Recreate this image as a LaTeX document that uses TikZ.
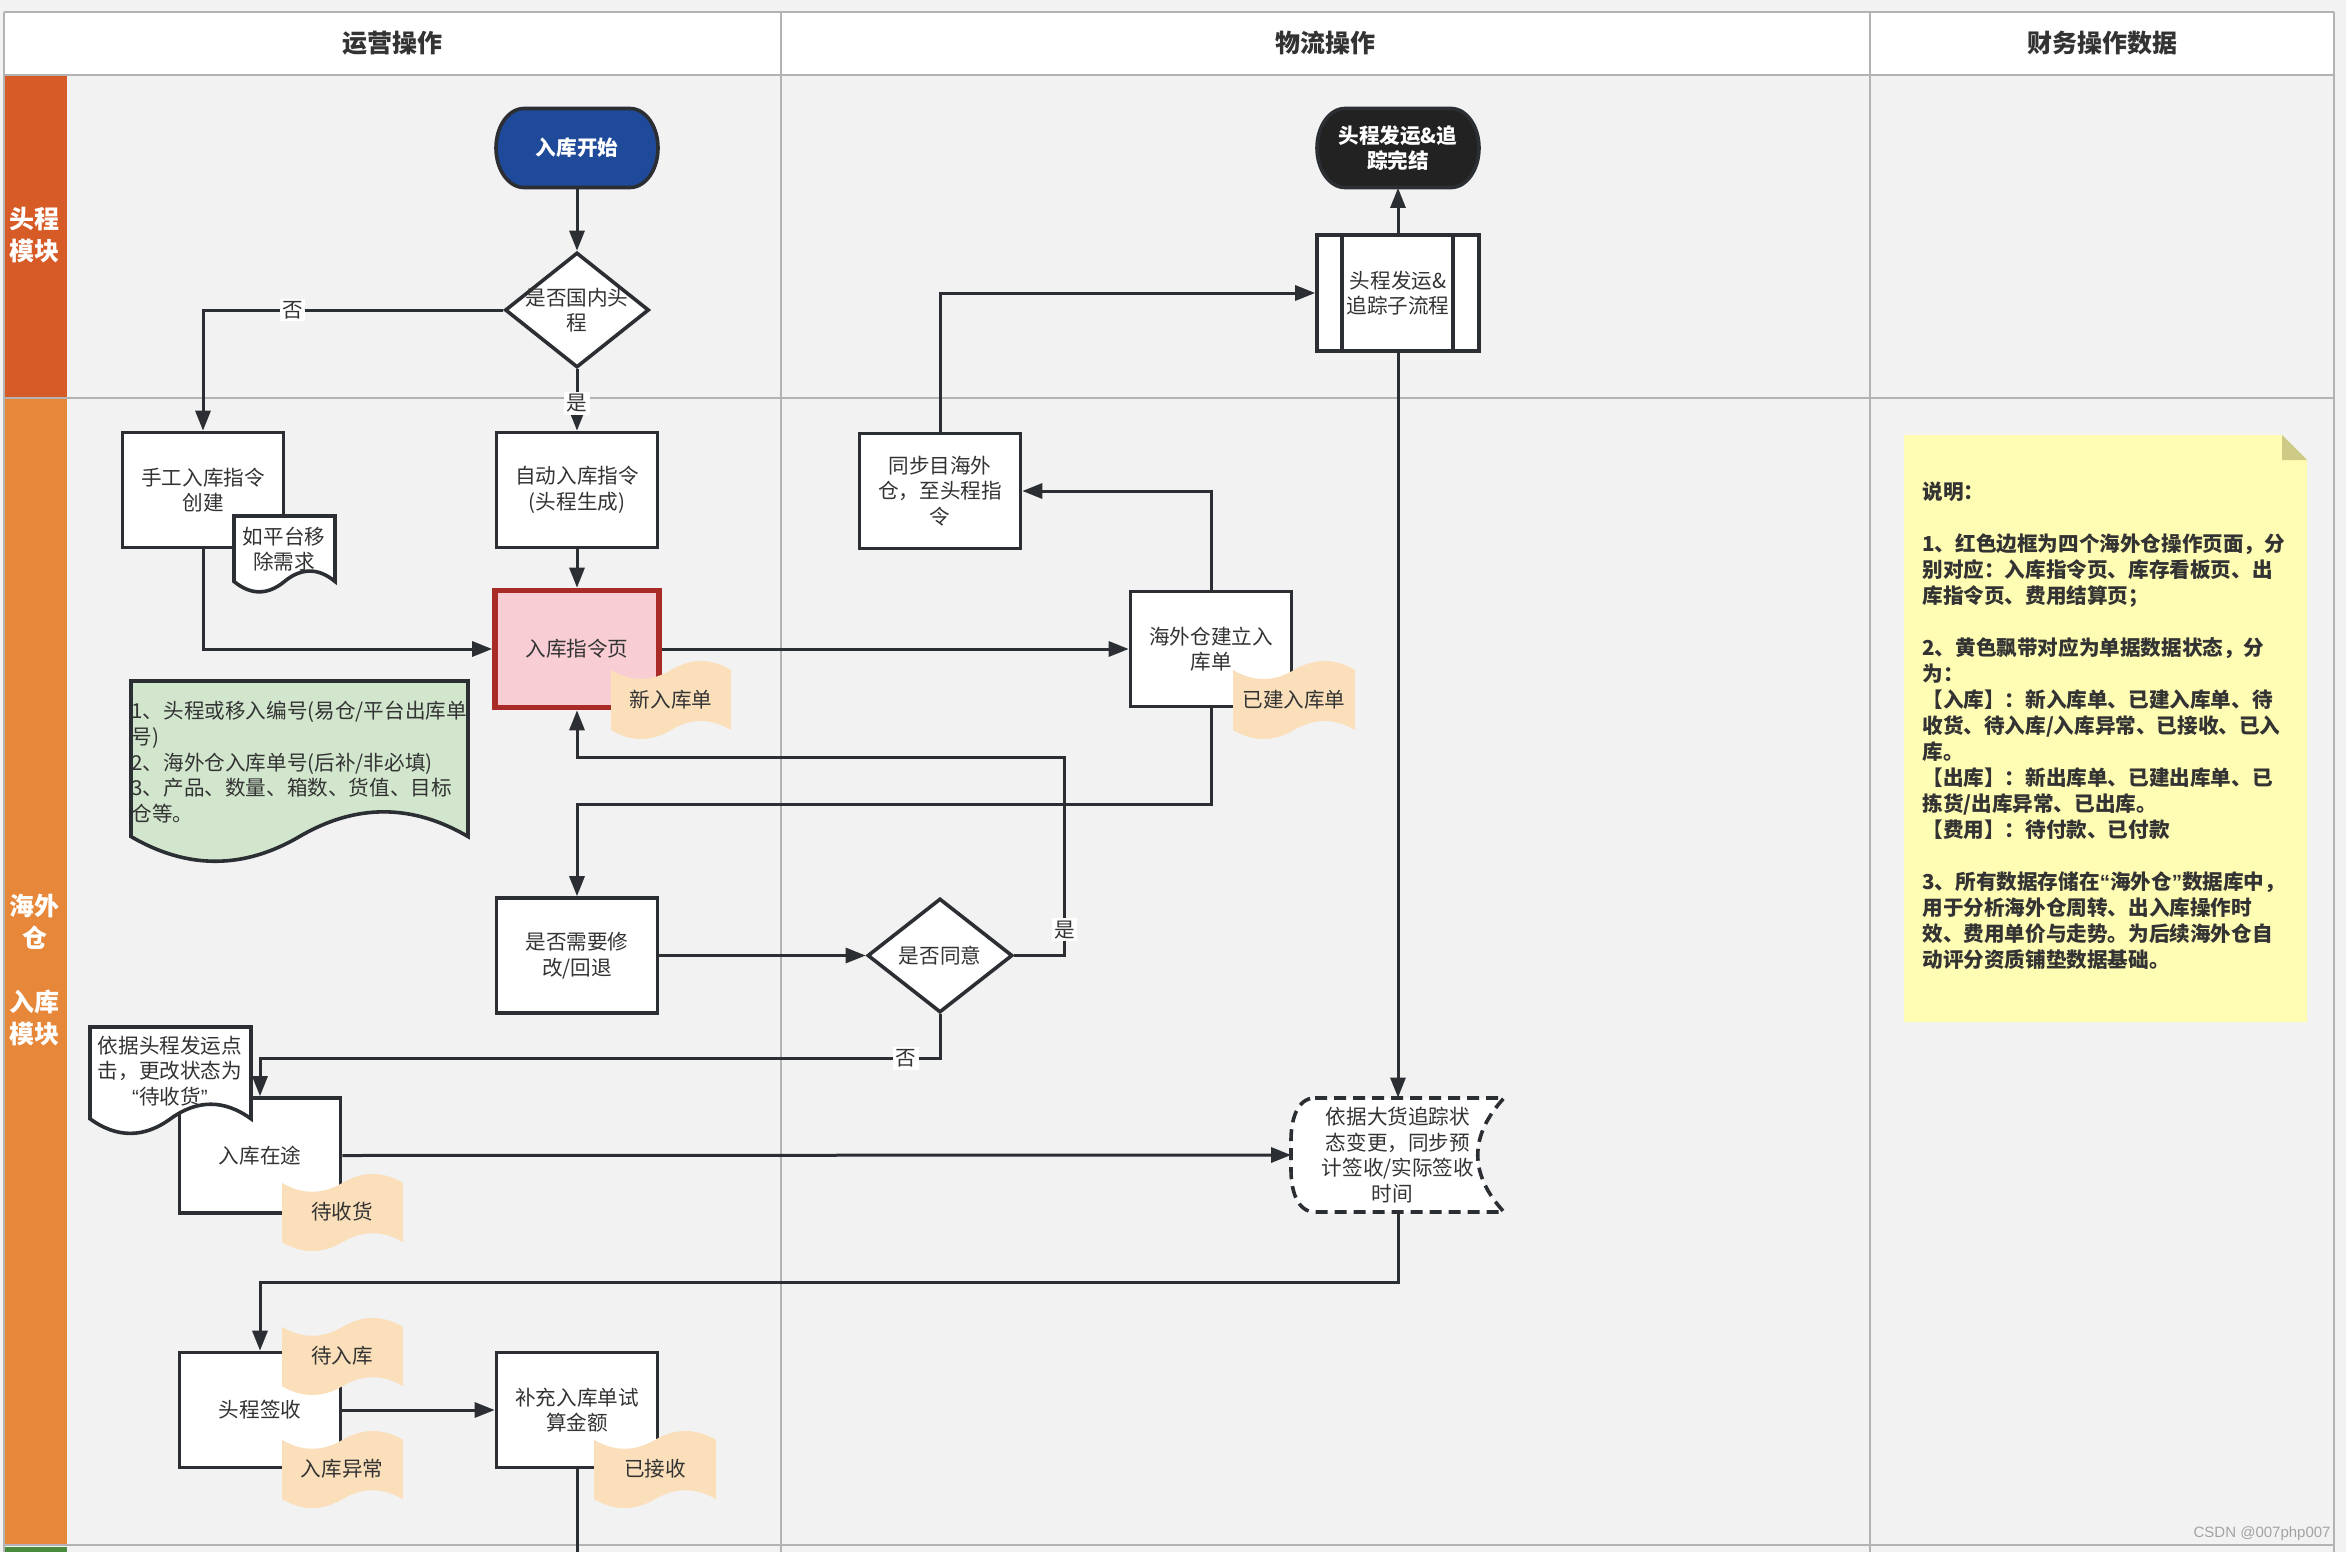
\documentclass[tikz,border=0pt]{standalone}
\usepackage{fontspec}
\setmainfont{Noto Sans CJK SC}
\newfontfamily\wmfont{Liberation Sans}
\usetikzlibrary{arrows.meta,shapes.geometric,calc}
\definecolor{bgc}{HTML}{F2F2F2}
\definecolor{gridc}{HTML}{B3B3B3}
\definecolor{laneA}{HTML}{D65B27}
\definecolor{laneB}{HTML}{E6873A}
\definecolor{laneC}{HTML}{4B8B3E}
\definecolor{bdr}{HTML}{2B2F33}
\definecolor{txt}{HTML}{333333}
\definecolor{startblue}{HTML}{1F4A9A}
\definecolor{endblack}{HTML}{222222}
\definecolor{pinkf}{HTML}{F8CED4}
\definecolor{redb}{HTML}{A82B28}
\definecolor{peach}{HTML}{FADFBA}
\definecolor{greendoc}{HTML}{D1E6CD}
\definecolor{notec}{HTML}{FFFCB4}
\definecolor{foldc}{HTML}{CDCA86}
\definecolor{wmc}{HTML}{A3A3A3}
\newcommand\bodyfont{\fontsize{10.3}{12.8}\selectfont}
\newcommand\myLQ{{\wmfont “}}
\newcommand\myRQ{{\wmfont ”}}
% tape (status ribbon): x0 y0 w h
\newcommand\tapeshape[4]{%
  \fill[peach, shift={(#1,#2)}] (0,{0.125*#4}) .. controls ({#3/6},{0.275*#4}) and ({#3/3},{0.275*#4}) .. ({#3/2},{0.125*#4}) .. controls ({2*#3/3},{-0.025*#4}) and ({5*#3/6},{-0.025*#4}) .. (#3,{0.125*#4}) -- (#3,{0.875*#4}) .. controls ({5*#3/6},{0.725*#4}) and ({2*#3/3},{0.725*#4}) .. ({#3/2},{0.875*#4}) .. controls ({#3/3},{1.025*#4}) and ({#3/6},{1.025*#4}) .. (0,{0.875*#4}) -- cycle;}
% document with wavy bottom: x0 y0 w h style
\newcommand\docshape[5]{%
  \path[#5, shift={(#1,#2)}] (0,0) -- (#3,0) -- (#3,{0.85*#4}) .. controls ({5*#3/6},{0.67*#4}) and ({2*#3/3},{0.67*#4}) .. ({#3/2},{0.85*#4}) .. controls ({#3/3},{1.03*#4}) and ({#3/6},{1.03*#4}) .. (0,{0.85*#4}) -- cycle;}
% terminator 162x79: cx cy style
\newcommand\termshape[3]{%
  \path[#3, shift={({#1-81},{#2-39.5})}] (28,0) -- (134,0) .. controls (149.5,0) and (162,17.7) .. (162,39.5) .. controls (162,61.3) and (149.5,79) .. (134,79) -- (28,79) .. controls (12.5,79) and (0,61.3) .. (0,39.5) .. controls (0,17.7) and (12.5,0) .. cycle;}
\tikzset{
  box/.style={draw=bdr, line width=1.8pt, fill=white, minimum width=80.5pt, minimum height=57.5pt, inner sep=0pt, align=center, text=txt, font=\bodyfont},
  ghost/.style={draw=none, fill=none, inner sep=0pt, align=center, text=txt, font=\bodyfont},
  arr/.style={draw=bdr, line width=1.5pt, -{Triangle[length=10pt,width=7.5pt]}},
  plainline/.style={draw=bdr, line width=1.5pt},
  lbl/.style={fill=white, inner sep=1.2pt, text=txt, font=\bodyfont},
  gridline/.style={draw=gridc, line width=1.2pt},
  dia/.style={diamond, draw=bdr, line width=1.8pt, fill=white, inner sep=0pt},
  hdr/.style={text=txt, font=\fontsize{12.5}{15}\selectfont\bfseries},
  lanelbl/.style={text=white, align=center, font=\fontsize{12.5}{16}\selectfont\bfseries},
}
\begin{document}
\begin{tikzpicture}[x=0.5pt,y=-0.5pt]
\useasboundingbox (0,0) rectangle (2346,1552);
\fill[bgc] (0,0) rectangle (2346,1552);
% header and lane bands
\fill[white] (4,12) rectangle (2334,75);
\fill[laneA] (4,75) rectangle (67,398);
\fill[laneB] (4,398) rectangle (67,1545);
\fill[laneC] (4,1547) rectangle (67,1552);
\draw[gridline] (4,12) -- (2334,12);
\draw[gridline] (4,75) -- (2334,75);
\draw[gridline] (4,398) -- (2334,398);
\draw[gridline] (4,1545) -- (2334,1545);
\draw[gridline] (4,12) -- (4,1552);
\draw[gridline] (781,12) -- (781,1552);
\draw[gridline] (1870,12) -- (1870,1552);
\draw[gridline] (2334,12) -- (2334,1552);
\node[hdr] (h1) at (392,43) {运营操作};
\node[hdr] (h2) at (1325,43) {物流操作};
\node[hdr] (h3) at (2102,43) {财务操作数据};
\node[lanelbl] (l1) at (35,235) {头程\\模块};
\node[lanelbl] (l2) at (35,970) {海外\\仓\\\mbox{}\\入库\\模块};

% start / end terminators
\termshape{577}{148}{fill=startblue, draw=bdr, line width=1.8pt}
\node[ghost, text=white, font=\bodyfont\bfseries, minimum width=81pt, minimum height=39.5pt] (start) at (577,148) {入库开始};
\termshape{1398}{148}{fill=endblack, draw=bdr, line width=1.8pt}
\node[ghost, text=white, font=\bodyfont\bfseries, minimum width=81pt, minimum height=39.5pt] (end) at (1398,148) {头程发运\&追\\踪完结};

% decisions
\node[dia, minimum width=72pt, minimum height=57.5pt] (d1) at (577,310) {};
\node[ghost] (d1t) at (d1) {是否国内头\\程};
\node[dia, minimum width=72.5pt, minimum height=57pt] (agree) at (940,955.5) {};
\node[ghost] (agreet) at (agree) {是否同意};

% boxes
\node[box] (man) at (203,490) {手工入库指令\\创建};
\docshape{234}{516}{101}{77}{draw=bdr, fill=white, line width=1.8pt}
\node[ghost] (memo1) at (284,549) {如平台移\\除需求};
\node[box] (auto) at (577,490) {自动入库指令\\(头程生成)};
\node[box, draw=redb, line width=2.8pt, fill=pinkf, minimum width=82pt, minimum height=58.5pt] (page) at (577,649) {入库指令页};
\docshape{131}{681}{337}{183}{draw=bdr, fill=greendoc, line width=1.8pt}
\node[ghost, anchor=north west, align=left] (memo2) at (131,701) {1、头程或移入编号(易仓/平台出库单\\号)\\2、海外仓入库单号(后补/非必填)\\3、产品、数量、箱数、货值、目标\\仓等。};
\node[box] (sync) at (940,491) {同步目海外\\仓，至头程指\\令};
\node[box] (wh) at (1211,649) {海外仓建立入\\库单};
\node[box, minimum width=81pt, minimum height=58pt] (sub) at (1398,293) {头程发运\&\\追踪子流程};
\draw[bdr, line width=1.8pt] ([xshift=13.5pt]sub.north west) -- ([xshift=13.5pt]sub.south west);
\draw[bdr, line width=1.8pt] ([xshift=-14pt]sub.north east) -- ([xshift=-14pt]sub.south east);
\node[box] (chg) at (577,955.5) {是否需要修\\改/回退};
\node[box] (transit) at (260,1155.5) {入库在途};
\docshape{90}{1027}{161}{108}{draw=bdr, fill=white, line width=1.8pt}
\node[ghost] (memo3) at (170,1071) {依据头程发运点\\击，更改状态为\\\myLQ 待收货\myRQ};
\path[draw=bdr, fill=white, line width=1.8pt, dash pattern=on 6pt off 3.5pt] (1315,1098) -- (1504,1098) .. controls (1469,1136) and (1469,1174) .. (1504,1212) -- (1315,1212) .. controls (1297,1212) and (1291,1190) .. (1291,1170) -- (1291,1140) .. controls (1291,1120) and (1297,1098) .. cycle;
\node[ghost, minimum width=106.5pt, minimum height=57pt] (track) at (1398,1155) {依据大货追踪状\\态变更，同步预\\计签收/实际签收\\时间\hspace*{6pt}};
\node[box] (sign) at (260,1410) {头程签收};
\node[box] (supp) at (577,1410) {补充入库单试\\算金额};

% connectors
\draw[arr] (start.south) -- (d1.north);
\draw[arr] (d1.west) -| node[lbl, pos=0.351] {否} (man.north);
\draw[arr] (d1.south) -- node[lbl, pos=0.55] {是} (auto.north);
\draw[arr] (man.south) |- (page.west);
\draw[arr] (auto.south) -- (page.north);
\draw[arr] (page.east) -- (wh.west);
\draw[arr] (wh.north) |- (sync.east);
\draw[arr] (sync.north) |- (sub.west);
\draw[arr] (sub.north) -- (end.south);
\draw[arr] (sub.south) -- (track.north);
\draw[arr] (wh.south) -- ($(wh.south)+(0,96)$) -| (chg.north);
\draw[arr] (chg.east) -- (agree.west);
\draw[arr] (agree.east) -- ++(50,0) |- node[lbl, pos=0.065] {是} ($(page.south)+(0,47)$) -- (page.south);
\draw[arr] (agree.south) -- ++(0,44) -| node[lbl, pos=0.025] {否} (transit.north);
\draw[arr] (transit.east) -- (track.west);
\draw[arr] (track.south) -- ++(0,70) -| (sign.north);
\draw[arr] (sign.east) -- (supp.west);
\draw[plainline] (supp.south) -- ++(0,100);

% status ribbons
\tapeshape{611}{660}{120}{80}
\node[ghost] (t1) at (671,700) {新入库单};
\tapeshape{1233}{660}{122}{80}
\node[ghost] (t2) at (1294,700) {已建入库单};
\tapeshape{282}{1173}{121}{79}
\node[ghost] (t3) at (342,1212) {待收货};
\tapeshape{282}{1317}{121}{79}
\node[ghost] (t4) at (342,1356) {待入库};
\tapeshape{282}{1430}{121}{79}
\node[ghost] (t5) at (342,1469) {入库异常};
\tapeshape{594}{1430}{122}{79}
\node[ghost] (t6) at (655,1469) {已接收};

% sticky note
\fill[notec] (1904,435) -- (2282,435) -- (2307,460) -- (2307,1022) -- (1904,1022) -- cycle;
\fill[foldc] (2282,435) -- (2282,460) -- (2307,460) -- cycle;
\node[anchor=north west, align=left, inner sep=0pt, text=txt, font=\fontsize{10.3}{13}\selectfont\bfseries] (note) at (1922,482) {说明：\\\mbox{}\\1、红色边框为四个海外仓操作页面，分\\别对应：入库指令页、库存看板页、出\\库指令页、费用结算页；\\\mbox{}\\2、黄色飘带对应为单据数据状态，分\\为：\\【入库】：新入库单、已建入库单、待\\收货、待入库/入库异常、已接收、已入\\库。\\【出库】：新出库单、已建出库单、已\\拣货/出库异常、已出库。\\【费用】：待付款、已付款\\\mbox{}\\3、所有数据存储在\myLQ 海外仓\myRQ 数据库中，\\用于分析海外仓周转、出入库操作时\\效、费用单价与走势。为后续海外仓自\\动评分资质铺垫数据基础。};

\node[anchor=east, inner sep=0pt, text=wmc, font=\wmfont\fontsize{7.5}{9}\selectfont] (wm) at (2331,1534) {CSDN @007php007};
\end{tikzpicture}
\end{document}
